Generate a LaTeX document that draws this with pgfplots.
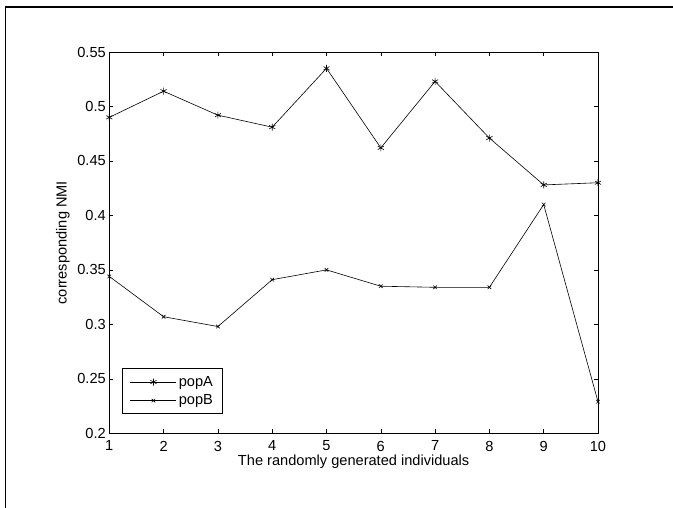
\documentclass[border=0pt]{standalone}
\usepackage{pgfplots}
\pgfplotsset{compat=1.18}
\usepackage{fontspec}
\setmainfont{Liberation Sans}
\begin{document}
\begin{tikzpicture}[x=1pt,y=1pt]
\path[use as bounding box] (0,0) rectangle (673,508);
\draw[line width=1.6pt] (5.5,0) -- (5.5,500.7) -- (673,500.7);
\begin{axis}[
  at={(109.3pt,74.7pt)}, anchor=south west,
  scale only axis, width=488.7pt, height=381.3pt,
  xmin=1, xmax=10, ymin=0.2, ymax=0.55,
  xtick={1,...,10},
  ytick={0.2,0.25,0.3,0.35,0.4,0.45,0.5,0.55},
  yticklabels={0.2,0.25,0.3,0.35,0.4,0.45,0.5,0.55},
  tick align=inside, tick pos=both,
  major tick length=4pt,
  axis line style={line width=0.9pt},
  tick style={line width=0.6pt, black},
  /pgf/number format/assume math mode=true,
  ticklabel style={font=\fontsize{14.6}{17}\selectfont},
  xticklabel style={yshift=-4pt},
  label style={font=\fontsize{14.6}{17}\selectfont},
  xlabel={The randomly generated individuals},
  ylabel={corresponding NMI},
  xlabel style={at={(rel axis cs:0.5,0)}, anchor=base, yshift=-32.5pt},
  ylabel style={at={(rel axis cs:0,0.5)}, anchor=base, yshift=42.8pt},
  legend style={at={(0.0254,0.0498)}, anchor=south west, draw=black, line width=0.9pt,
    font=\fontsize{14.6}{17}\selectfont, inner xsep=8pt, inner ysep=5.5pt, row sep=3pt,
    cells={anchor=west}},
  legend image code/.code={\draw[#1, line width=0.6pt] (0pt,0pt) -- (46pt,0pt); \draw[#1, line width=0.6pt, mark repeat=1] plot coordinates {(23pt,0pt)};},
]
\addplot[black, line width=0.6pt, mark=asterisk, mark size=3.5pt, mark options={line width=0.6pt}] coordinates {
(1,0.490) (2,0.514) (3,0.492) (4,0.481) (5,0.535) (6,0.462) (7,0.523) (8,0.471) (9,0.428) (10,0.430)};
\addlegendentry{popA\hspace{3pt}}
\addplot[black, line width=0.6pt, mark=x, mark size=2.5pt, mark options={line width=0.6pt}] coordinates {
(1,0.344) (2,0.307) (3,0.298) (4,0.341) (5,0.350) (6,0.335) (7,0.334) (8,0.334) (9,0.410) (10,0.229)};
\addlegendentry{popB\hspace{3pt}}
\end{axis}
\end{tikzpicture}
\end{document}
